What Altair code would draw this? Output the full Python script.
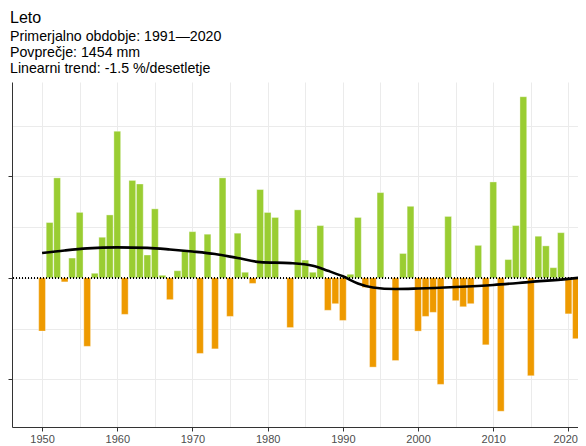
import altair as alt
import pandas as pd

# Summer precipitation anomaly (%) relative to 1991-2020 mean
years = list(range(1950, 2023))
anomaly = [
    -10.5, 10.9, 19.7, -0.8, 3.9, 12.9, -13.5, 0.9, 8.0, 12.4,      # 1950-1959
    28.9, -7.2, 19.2, 18.5, 4.5, 13.6, 0.5, -4.3, 1.4, 5.5,         # 1960-1969
    9.1, -14.9, 8.6, -14.0, 19.7, -7.6, 8.8, 1.1, -1.1, 17.4,       # 1970-1979
    12.9, 11.9, 0.0, -9.8, 13.4, 3.5, 1.1, 10.3, -6.4, -5.1,        # 1980-1989
    -8.4, 0.7, 11.9, -1.9, -17.6, 16.8, 0.0, -16.3, 4.8, 14.1,      # 1990-1999
    -10.5, -7.6, -6.8, -21.0, 12.1, -4.5, -5.7, -5.1, 6.4, -13.2,   # 2000-2009
    18.9, -26.3, 3.6, 10.3, 35.7, -19.3, 8.2, 6.3, 2.0, 8.9,        # 2010-2019
    -7.1, -12.0, -11.4,                                              # 2020-2022
]
assert len(years) == len(anomaly)

trend_years = [1950, 1953, 1956, 1960, 1964, 1967, 1970, 1973, 1976, 1979,
               1983, 1986, 1988, 1990, 1992, 1994, 1997, 2000, 2005, 2010,
               2015, 2020, 2022]
trend_values = [4.9, 5.4, 5.8, 6.0, 5.9, 5.6, 5.2, 4.7, 3.9, 3.1,
                2.9, 2.4, 1.4, 0.3, -1.1, -1.9, -2.2, -2.1, -1.8, -1.4,
                -0.8, -0.2, 0.1]

title_text = "Leto"
subtitle_lines = [
    "Primerjalno obdobje: 1991—2020",
    "Povprečje: 1454 mm",
    "Linearni trend: -1.5 %/desetletje",
]

df = pd.DataFrame({"leto": years, "odklon": anomaly})
df["znak"] = ["pozitiven" if v >= 0 else "negativen" for v in anomaly]
tdf = pd.DataFrame({"leto": trend_years, "trend": trend_values})

xscale = alt.Scale(domain=[1946, 2021.27], nice=False, zero=False)
yscale = alt.Scale(domain=[-29.4, 38.6], nice=False, zero=False)

xaxis = alt.Axis(
    values=list(range(1950, 2025, 5)),
    format="d",
    labelExpr="datum.value % 10 === 0 ? datum.label : ''",
    tickOpacity={"condition": {"test": "datum.value % 10 === 0", "value": 1}, "value": 0},
    labelAlign={"condition": {"test": "datum.value >= 2020", "value": "right"}, "value": "center"},
    labelOffset={"condition": {"test": "datum.value >= 2020", "value": 9}, "value": 0},
    title=None,
    labelPadding=2,
)
yaxis = alt.Axis(
    values=[-20, -10, 0, 10, 20, 30],
    labelExpr="datum.value % 20 === 0 ? datum.label : ''",
    tickOpacity={"condition": {"test": "datum.value % 20 === 0", "value": 1}, "value": 0},
    title=None,
)

bars = alt.Chart(df).transform_calculate(
    x0="datum.leto - 0.45", x1="datum.leto + 0.45"
).mark_bar(clip=True, stroke="white", strokeWidth=0.6, strokeOpacity=0.6).encode(
    x=alt.X("x0:Q", scale=xscale, axis=xaxis),
    x2="x1:Q",
    y=alt.Y("odklon:Q", scale=yscale, axis=yaxis),
    y2=alt.datum(0),
    color=alt.Color("znak:N",
                    scale=alt.Scale(domain=["pozitiven", "negativen"],
                                    range=["#9ACD32", "#EE9A00"]),
                    legend=None),
)

zero = alt.Chart(df).mark_rule(color="black", strokeDash=[1, 2], strokeWidth=1).encode(
    y=alt.YDatum(0)
)

trend = alt.Chart(tdf).mark_line(color="black", strokeWidth=2.6, interpolate="monotone", clip=True).encode(
    x=alt.X("leto:Q", scale=xscale, axis=xaxis),
    y=alt.Y("trend:Q", scale=yscale, axis=yaxis),
)

chart = alt.layer(bars, zero, trend).properties(
    width=566,
    height=345,
    autosize=alt.AutoSizeParams(type="none"),
    padding={"left": 4, "top": 74, "right": 0, "bottom": 19},
    title=alt.Title(
        title_text,
        subtitle=subtitle_lines,
        anchor="start",
        frame="group",
        fontSize=16,
        fontWeight="normal",
        font="Liberation Sans",
        color="black",
        subtitleFont="Liberation Sans",
        subtitleFontSize=14.2,
        subtitleColor="black",
        subtitleLineHeight=16,
        subtitlePadding=4,
        offset=6,
        dx=-2,
    ),
).configure_view(stroke=None).configure_axis(
    domainColor="#333333",
    domainWidth=1,
    gridColor="#ebebeb",
    gridWidth=1,
    tickColor="#333333",
    tickSize=4,
    labelColor="#4d4d4d",
    labelFontSize=11,
    labelFont="Liberation Sans",
)

chart.save("out.html", embed_options={"renderer": "svg", "actions": False})
